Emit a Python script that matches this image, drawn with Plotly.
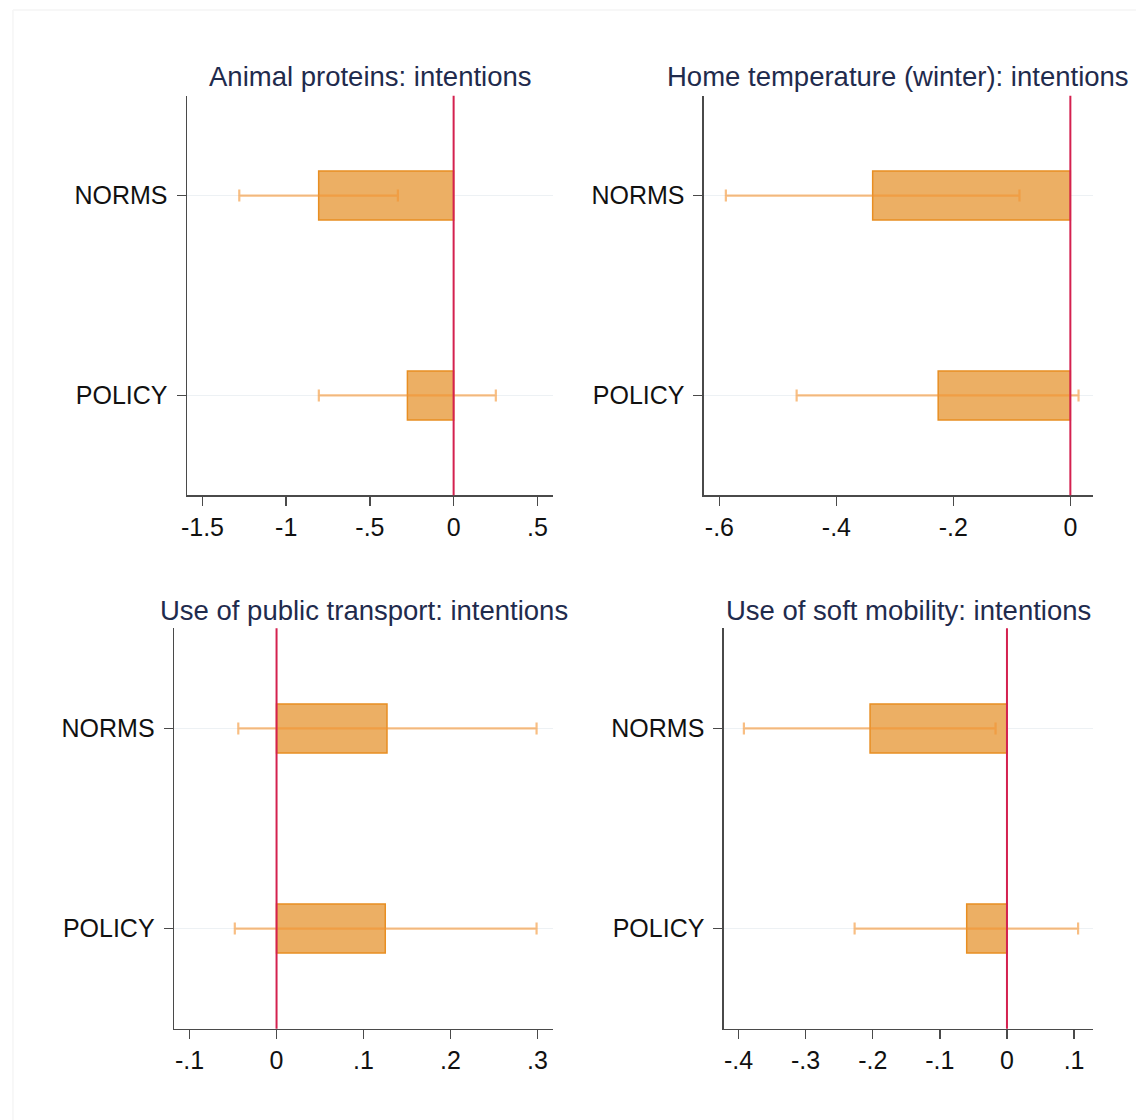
import plotly.graph_objects as go

W, H = 1136, 1120

categories = ["NORMS", "POLICY"]

titles = [
    "Animal proteins: intentions",
    "Home temperature (winter): intentions",
    "Use of public transport: intentions",
    "Use of soft mobility: intentions",
]

# point estimates (NORMS, POLICY)
coef_animal = [-0.806, -0.276]
coef_home = [-0.338, -0.226]
coef_transport = [0.127, 0.125]
coef_soft = [-0.204, -0.060]

# confidence interval lower bounds
lo_animal = [-1.280, -0.805]
lo_home = [-0.589, -0.468]
lo_transport = [-0.044, -0.048]
lo_soft = [-0.392, -0.227]

# confidence interval upper bounds
hi_animal = [-0.333, 0.252]
hi_home = [-0.087, 0.014]
hi_transport = [0.299, 0.299]
hi_soft = [-0.017, 0.106]

# x tick labels
ticks_animal = [-1.5, -1, -0.5, 0, 0.5]
ticklab_animal = ["-1.5", "-1", "-.5", "0", ".5"]
ticks_home = [-0.6, -0.4, -0.2, 0]
ticklab_home = ["-.6", "-.4", "-.2", "0"]
ticks_transport = [-0.1, 0, 0.1, 0.2, 0.3]
ticklab_transport = ["-.1", "0", ".1", ".2", ".3"]
ticks_soft = [-0.4, -0.3, -0.2, -0.1, 0, 0.1]
ticklab_soft = ["-.4", "-.3", "-.2", "-.1", "0", ".1"]

panels = [
    (coef_animal, lo_animal, hi_animal, ticks_animal, ticklab_animal),
    (coef_home, lo_home, hi_home, ticks_home, ticklab_home),
    (coef_transport, lo_transport, hi_transport, ticks_transport, ticklab_transport),
    (coef_soft, lo_soft, hi_soft, ticks_soft, ticklab_soft),
]

# layout (pixel geometry of plot areas)
px_boxes = [
    (182, 550, 95.7, 495.3),
    (701.7, 1092.7, 95.7, 495.3),
    (169, 550, 628.3, 1028.7),
    (721.7, 1092.3, 628.3, 1028.7),
]
x_ranges = [(-1.592, 0.594), (-0.6264, 0.0386), (-0.1178, 0.318), (-0.4218, 0.1275)]

FONT = "Liberation Sans, Arial, sans-serif"
BAR_FILL = "#ECAF64"
BAR_LINE = "#E88E22"
ERR_COL = "rgba(243,146,48,0.6)"
REF_COL = "#D4214F"
AX_COL = "#4a4a4a"

fig = go.Figure()
shapes = []
annotations = []

for i, ((coef, lo, hi, tv, tt), (x0, x1, y0, y1), xr) in enumerate(zip(panels, px_boxes, x_ranges)):
    n = "" if i == 0 else str(i + 1)
    plus = [h - c for h, c in zip(hi, coef)]
    minus = [c - l for c, l in zip(coef, lo)]
    fig.add_trace(go.Bar(
        x=coef, y=categories, orientation="h",
        width=0.245,
        marker=dict(color=BAR_FILL, line=dict(color=BAR_LINE, width=1.5)),
        error_x=dict(type="data", symmetric=False, array=plus, arrayminus=minus,
                     color=ERR_COL, thickness=2.2, width=6),
        xaxis="x" + n, yaxis="y" + n, showlegend=False,
    ))
    xd = [x0 / W, x1 / W]
    yd = [1 - y1 / H, 1 - y0 / H]
    fig.update_layout(**{
        "xaxis" + n: dict(
            domain=xd, anchor="y" + n, range=list(xr),
            tickvals=tv, ticktext=tt, showgrid=False, zeroline=False,
            showline=True, linecolor=AX_COL, linewidth=1.5,
            ticks="outside", ticklen=9, tickwidth=1.5, tickcolor=AX_COL,
            tickfont=dict(family=FONT, size=25, color="#111111"),
            fixedrange=True,
        ),
        "yaxis" + n: dict(
            domain=yd, anchor="x" + n, range=[-0.5, 1.5],
            type="category", categoryorder="array", categoryarray=["POLICY", "NORMS"],
            showgrid=True, gridcolor="#EDF1F4", gridwidth=1.5, zeroline=False,
            showline=True, linecolor=AX_COL, linewidth=1.5,
            ticks="outside", ticklen=9, tickwidth=1.5, tickcolor=AX_COL,
            tickfont=dict(family=FONT, size=25, color="#111111"),
            ticklabelstandoff=4, fixedrange=True,
        ),
    })
    shapes.append(dict(
        type="line", xref="x" + n, yref="y" + n + " domain",
        x0=0, x1=0, y0=0, y1=1, layer="above",
        line=dict(color=REF_COL, width=2),
    ))
    title_y = 77 if i < 2 else 610
    annotations.append(dict(
        text=titles[i], xref="paper", yref="paper",
        x=(x0 + x1) / 2 / W, y=1 - title_y / H,
        xanchor="center", yanchor="middle", showarrow=False,
        font=dict(family=FONT, size=27.5, color="#1F2B4D"),
    ))

# faint outer frame
shapes.append(dict(type="line", xref="paper", yref="paper",
                   x0=7 / W, x1=1.0, y0=1 - 10 / H, y1=1 - 10 / H,
                   line=dict(color="#F5F5F5", width=1.5), layer="below"))
shapes.append(dict(type="line", xref="paper", yref="paper",
                   x0=7 / W, x1=7 / W, y0=0, y1=1 - 10 / H,
                   line=dict(color="#F5F5F5", width=1.5), layer="below"))

fig.update_layout(
    width=W, height=H,
    margin=dict(l=0, r=0, t=0, b=0),
    paper_bgcolor="white", plot_bgcolor="white",
    shapes=shapes, annotations=annotations,
    bargap=0,
)

fig.write_html(
    "out.html",
    config={"displayModeBar": False, "staticPlot": True},
    post_script="document.body.style.margin='0';document.body.style.overflow='hidden';",
)
